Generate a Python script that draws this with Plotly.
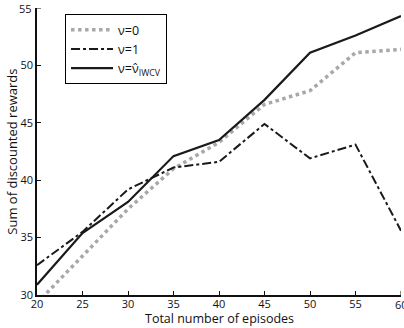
import plotly.graph_objects as go

episodes = [20, 25, 30, 35, 40, 45, 50, 55, 60]
nu0 = [29.3, 33.4, 37.5, 41.0, 43.3, 46.6, 47.8, 51.1, 51.4]
nu1 = [32.6, 35.5, 39.2, 41.1, 41.6, 44.9, 41.9, 43.1, 35.6]
nu_iwcv = [30.9, 35.4, 38.1, 42.1, 43.5, 47.0, 51.1, 52.6, 54.3]
x_ticks = [20, 25, 30, 35, 40, 45, 50, 55, 60]
y_ticks = [30, 35, 40, 45, 50, 55]

fig = go.Figure()
fig.add_trace(go.Scatter(x=episodes, y=nu0, mode="lines", name="ν=0",
                         line=dict(color="#a8a8a8", width=3.5, dash="dot")))
fig.add_trace(go.Scatter(x=episodes, y=nu1, mode="lines", name="ν=1",
                         line=dict(color="#1a1a1a", width=2, dash="dashdot")))
fig.add_trace(go.Scatter(x=episodes, y=nu_iwcv, mode="lines",
                         name="ν=ν̂<sub>IWCV</sub>",
                         line=dict(color="#1a1a1a", width=2.2)))

tickfont = dict(size=11, family="Open Sans, Liberation Sans, sans-serif", color="#111")
annotations = [
    dict(text="Total number of episodes", xref="paper", yref="paper",
         x=0.5, y=-0.0836, xanchor="center", yanchor="middle",
         showarrow=False, font=dict(size=12.5)),
    dict(text="Sum of discounted rewards", xref="paper", yref="paper",
         x=-0.071, y=0.5, xanchor="center", yanchor="middle",
         textangle=-90, showarrow=False, font=dict(size=13)),
    # end tick labels that the axis drops because they touch the page edge
    dict(text=str(y_ticks[-1]), xref="paper", yref="y", x=0, y=y_ticks[-1],
         xanchor="right", yanchor="middle", xshift=-3, showarrow=False,
         font=tickfont),
    dict(text=str(x_ticks[-1]), xref="x", yref="paper", x=x_ticks[-1], y=0,
         xanchor="center", yanchor="top", yshift=0, showarrow=False,
         font=tickfont),
]

fig.update_layout(
    width=404, height=328,
    margin=dict(l=37, r=3, t=8, b=33, autoexpand=False),
    paper_bgcolor="white", plot_bgcolor="white",
    font=dict(family="Open Sans, Liberation Sans, sans-serif", size=11, color="#111"),
    showlegend=True,
    legend=dict(x=0.077, y=0.979, xanchor="left", yanchor="top",
                bordercolor="black", borderwidth=1, bgcolor="white",
                font=dict(size=12.5), tracegroupgap=0, itemwidth=42),
    annotations=annotations,
)
fig.update_xaxes(range=[20, 60], tickvals=x_ticks[:-1],
                 showgrid=False, zeroline=False, showline=True, linecolor="#111",
                 linewidth=1.5, ticks="inside", ticklen=4, tickcolor="#111",
                 automargin=False, tickfont=tickfont, ticklabelstandoff=-2)
fig.update_yaxes(range=[30, 55], tickvals=y_ticks[:-1],
                 showgrid=False, zeroline=False, showline=True, linecolor="#111",
                 linewidth=1.5, ticks="inside", ticklen=4, tickcolor="#111",
                 automargin=False, tickfont=tickfont)
# tick marks for the end values (labels added as annotations above)
fig.add_shape(type="line", xref="paper", yref="y", x0=0, x1=0.011,
              y0=y_ticks[-1], y1=y_ticks[-1], line=dict(color="#111", width=1))
fig.add_shape(type="line", xref="x", yref="paper", x0=x_ticks[-1], x1=x_ticks[-1],
              y0=0, y1=0.014, line=dict(color="#111", width=1))

fig.write_html("out.html", config={"displayModeBar": False},
               post_script="document.body.style.margin='0';document.body.style.overflow='hidden';")
